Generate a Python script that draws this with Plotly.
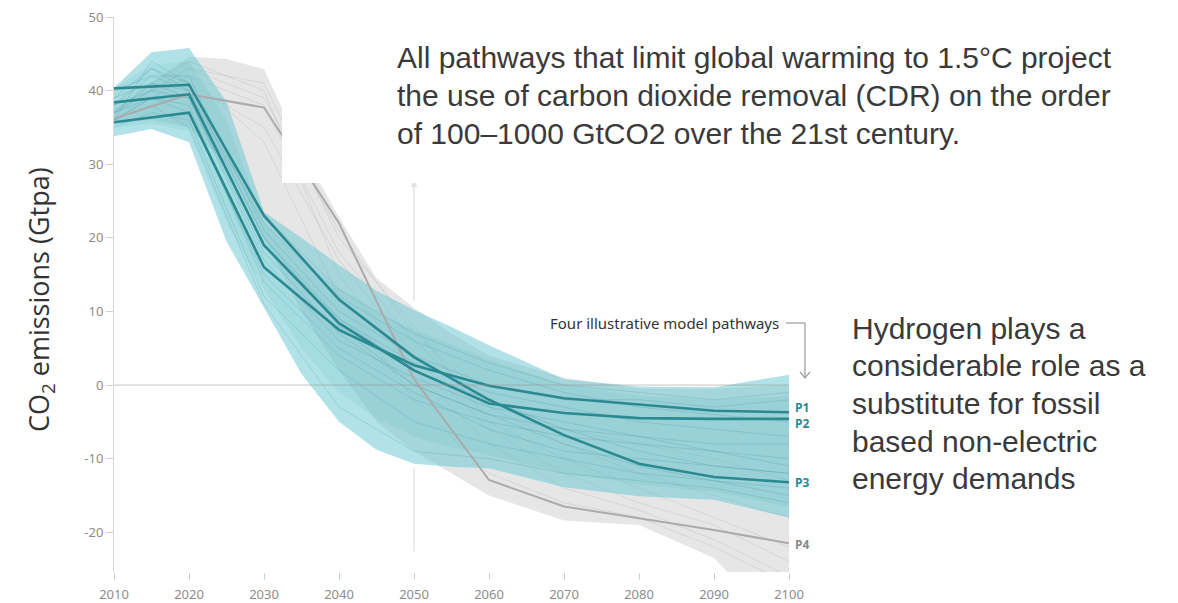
import plotly.graph_objects as go

# ---------------- data ----------------
BAND_YEARS = [2010, 2015, 2020, 2025, 2030, 2035, 2040, 2045, 2050, 2055, 2060, 2070, 2080, 2090, 2100]

# 1.5 °C pathways with no or limited overshoot (teal envelope)
teal_upper = [40.4, 45.2, 45.8, 38.5, 23.5, 20.0, 16.3, 12.8, 10.2, 7.9, 5.4, 0.8, -0.2, -0.3, 1.4]
teal_lower = [33.8, 34.8, 33.0, 19.5, 10.5, 1.5, -5.0, -8.8, -10.7, -11.1, -11.3, -13.9, -15.1, -15.6, -18.0]
# interquartile-like core of the same set
core_upper = [40.3, 43.5, 44.0, 36.0, 22.0, 17.0, 13.0, 10.0, 7.5, 5.5, 3.5, 0.0, -1.5, -2.0, -1.5]
core_lower = [35.0, 35.5, 34.5, 22.0, 13.0, 5.0, -1.0, -4.5, -7.0, -8.5, -9.5, -12.0, -13.5, -14.5, -16.5]

# pathways with higher overshoot (grey envelope)
grey_upper = [37.5, 41.0, 44.6, 44.3, 42.9, 32.0, 22.8, 14.5, 10.5, 7.0, 4.0, 1.0, -0.5, -0.5, 0.0]
grey_lower = [35.5, 36.0, 35.0, 30.0, 20.0, 10.0, 2.0, -5.0, -9.0, -12.0, -15.0, -18.4, -19.0, -23.5, -34.0]

SCEN_YEARS = [2010, 2015, 2020, 2030, 2040, 2050, 2060, 2070, 2080, 2090, 2100]
teal_scenarios = [
    [36, 44, 41, 20, 9, 3, -1, -3, -5, -6, -7],
    [38, 43, 40, 22, 12, 6, 2, -1, -3, -4, -5],
    [37, 39, 38, 14, 4, -2, -5, -7, -8, -9, -10],
    [39, 41, 39, 18, 7, 0, -4, -8, -11, -13, -15],
    [35, 37, 36, 12, 2, -5, -8, -10, -12, -13, -14],
    [40, 42, 42, 21, 10, 4, 0, -2, -2, -3, -2],
    [36, 38, 35, 11, -3, -9, -10, -12, -13, -14, -16],
    [38, 40, 39, 17, 6, 1, -3, -5, -7, -9, -11],
    [37, 41, 40, 19, 9, 2, -2, -6, -9, -11, -12],
    [39, 43, 41, 23, 13, 7, 3, 0, -1, -2, -1],
    [36, 39, 37, 15, 5, -1, -6, -9, -10, -11, -12],
    [38, 42, 40, 20, 8, 0, -4, -6, -7, -8, -8],
]
grey_scenarios = [
    [37, 40, 43, 41, 20, 8, -5, -10, -14, -18, -22],
    [36, 39, 42, 38, 18, 6, -3, -8, -12, -15, -18],
    [38, 41, 44, 40, 15, 2, -8, -14, -17, -21, -26],
    [37, 40, 41, 35, 17, 4, -6, -12, -16, -19, -24],
    [36, 39, 42, 33, 12, -2, -12, -16, -18, -22, -27],
    [37, 40, 43, 39, 21, 7, -2, -6, -8, -10, -13],
]

P_YEARS = [2010, 2020, 2030, 2040, 2050, 2060, 2070, 2080, 2090, 2100]
P1 = [35.7, 37.0, 16.0, 7.5, 2.7, -0.1, -1.8, -2.6, -3.5, -3.7]
P2 = [38.4, 39.5, 19.0, 8.4, 2.0, -2.5, -3.8, -4.5, -4.6, -4.6]
P3 = [40.3, 40.8, 23.0, 11.6, 3.8, -2.0, -6.8, -10.7, -12.5, -13.2]
P4 = [36.2, 39.5, 37.7, 22.0, 0.8, -12.9, -16.5, -18.1, -19.7, -21.5]
P_LABELS = ["P1", "P2", "P3", "P4"]

Y_TICKS = [-20, -10, 0, 10, 20, 30, 40, 50]
Y_TICKTEXT = ["-20", "-10", "0", "10", "20", "30", "40", "50"]
X_TICKS = [2010, 2020, 2030, 2040, 2050, 2060, 2070, 2080, 2090, 2100]

# ---------------- styling ----------------
TEAL_LINE = "#2b8a91"
GREY_LINE = "#ababab"
CHART_FONT = "Noto Sans"
TEXT_FONT = "Liberation Sans, Arial"
Y_MIN, Y_MAX = -25.4, 50

fig = go.Figure()


def band(years, upper, lower, color):
    return go.Scatter(
        x=list(years) + list(years)[::-1],
        y=list(upper) + list(lower)[::-1],
        fill="toself", fillcolor=color, mode="lines",
        line=dict(width=0), hoverinfo="skip", showlegend=False,
    )


fig.add_trace(band(BAND_YEARS, grey_upper, grey_lower, "rgba(200,200,200,0.45)"))
for s in grey_scenarios:
    fig.add_trace(go.Scatter(x=SCEN_YEARS, y=s, mode="lines",
                             line=dict(color="rgba(150,150,150,0.2)", width=1),
                             hoverinfo="skip", showlegend=False))

fig.add_trace(band(BAND_YEARS, teal_upper, teal_lower, "rgba(100,198,208,0.5)"))
fig.add_trace(band(BAND_YEARS, core_upper, core_lower, "rgba(60,170,180,0.11)"))
for s in teal_scenarios:
    fig.add_trace(go.Scatter(x=SCEN_YEARS, y=s, mode="lines",
                             line=dict(color="rgba(40,130,140,0.18)", width=1),
                             hoverinfo="skip", showlegend=False))

fig.add_trace(go.Scatter(x=P_YEARS, y=P4, mode="lines",
                         line=dict(color=GREY_LINE, width=2),
                         hoverinfo="skip", showlegend=False))
for series in (P1, P2, P3):
    fig.add_trace(go.Scatter(x=P_YEARS, y=series, mode="lines",
                             line=dict(color=TEAL_LINE, width=2.6),
                             hoverinfo="skip", showlegend=False))

# ---------------- axes ----------------
fig.update_xaxes(range=[2010, 2100], tickvals=X_TICKS, ticks="outside", ticklen=7,
                 tickcolor="#d0d0d0", showline=False, showgrid=False, zeroline=False,
                 automargin=False, ticklabelstandoff=3,
                 tickfont=dict(family=CHART_FONT, size=13, color="#8c8c8c"))
fig.update_yaxes(range=[Y_MIN, Y_MAX], tickvals=Y_TICKS, ticktext=Y_TICKTEXT,
                 ticks="outside", ticklen=7, tickcolor="#d0d0d0",
                 showline=True, linecolor="#d9d9d9", linewidth=1,
                 showgrid=False, zeroline=False, automargin=False,
                 tickfont=dict(family=CHART_FONT, size=13, color="#8c8c8c"))

# zero reference line and 2050 marker
shapes = [
    dict(type="line", xref="x", yref="y", x0=2010, x1=2100, y0=0, y1=0,
         line=dict(color="rgba(150,150,150,0.55)", width=1), layer="above"),
    dict(type="line", xref="x", yref="y", x0=2050, x1=2050, y0=11.5, y1=27.0,
         line=dict(color="#e2e2e2", width=1.5), layer="below"),
    dict(type="line", xref="x", yref="y", x0=2050, x1=2050, y0=-22.6, y1=-11.2,
         line=dict(color="#e6e6e6", width=1.5), layer="below"),
    dict(type="path", xref="x", yref="y",
         path="M 2049.55,26.9 L 2050.45,26.9 L 2050,27.9 Z",
         fillcolor="#e2e2e2", line=dict(width=0), layer="below"),
    # text panel over the upper right of the chart
    dict(type="rect", xref="paper", yref="paper", x0=0.2489, x1=1.6, y0=0.7009, y1=1.04,
         fillcolor="white", line=dict(width=0), layer="above"),
    # connector from the pathway caption to the labels
    dict(type="line", xref="paper", yref="paper", x0=0.9956, x1=1.0237, y0=0.4486, y1=0.4486,
         line=dict(color="#9a9a9a", width=1.2)),
    dict(type="line", xref="paper", yref="paper", x0=1.0237, x1=1.0237, y0=0.4486, y1=0.3495,
         line=dict(color="#9a9a9a", width=1.2)),
    dict(type="path", xref="paper", yref="paper",
         path="M 1.0163,0.3604 L 1.0237,0.3495 L 1.0311,0.3604",
         line=dict(color="#9a9a9a", width=1.2)),
]
fig.update_layout(shapes=shapes)

annotations = []
# pathway labels at the line ends
label_series = [P1, P2, P3, P4]
label_shift = [5, -5, 0, -1]
label_color = [TEAL_LINE, TEAL_LINE, TEAL_LINE, "#8a8a8a"]
for name, series, shift, col in zip(P_LABELS, label_series, label_shift, label_color):
    annotations.append(dict(x=P_YEARS[-1], y=series[-1], xref="x", yref="y",
                            text=f"<b>{name}</b>", showarrow=False, xanchor="left",
                            yanchor="middle", xshift=4, yshift=shift,
                            font=dict(family=CHART_FONT, size=12, color=col)))

annotations.append(dict(x=0.988, y=0.4486, xref="paper", yref="paper",
                        text="Four illustrative model pathways", showarrow=False,
                        xanchor="right", yanchor="middle",
                        font=dict(family=CHART_FONT, size=15, color="#333333")))

annotations.append(dict(x=-0.1096, y=0.49, xref="paper", yref="paper",
                        text="CO<sub>2</sub> emissions (Gtpa)", showarrow=False,
                        textangle=-90, xanchor="center", yanchor="middle",
                        font=dict(family="Open Sans", size=27, color="#333333")))

top_lines = [
    "All pathways that limit global warming to 1.5°C project",
    "the use of carbon dioxide removal (CDR) on the order",
    "of 100–1000 GtCO2 over the 21st century.",
]
top_y = [57, 95, 133]
for txt, py in zip(top_lines, top_y):
    annotations.append(dict(x=(395 - 114) / 675, y=(572 - py) / 555, xref="paper", yref="paper",
                            text=txt, showarrow=False, xanchor="left", yanchor="middle",
                            font=dict(family=TEXT_FONT, size=30, color="#3a3a3a")))

side_lines = [
    "Hydrogen plays a",
    "considerable role as a",
    "substitute for fossil",
    "based non-electric",
    "energy demands",
]
side_y = [328, 365, 403, 441, 479]
for txt, py in zip(side_lines, side_y):
    annotations.append(dict(x=(850 - 114) / 675, y=(572 - py) / 555, xref="paper", yref="paper",
                            text=txt, showarrow=False, xanchor="left", yanchor="middle",
                            font=dict(family=TEXT_FONT, size=30, color="#3a3a3a")))

fig.update_layout(
    annotations=annotations,
    width=1178, height=603,
    margin=dict(l=114, r=389, t=17, b=31),
    paper_bgcolor="white", plot_bgcolor="white",
    showlegend=False,
)

fig.write_html("out.html")
